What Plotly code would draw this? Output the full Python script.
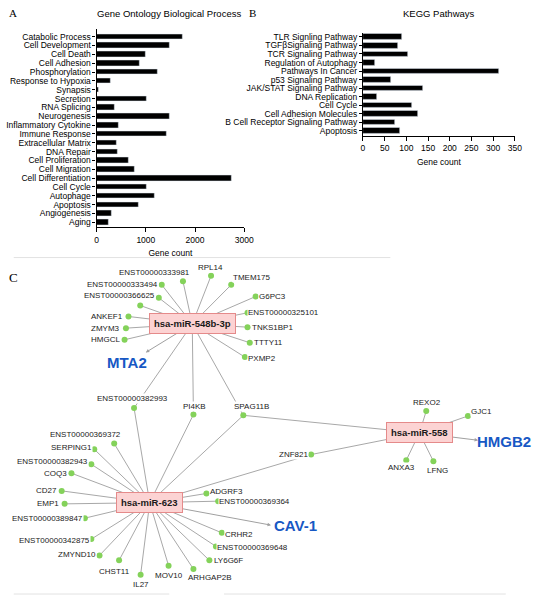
import plotly.graph_objects as go

# ---- Panel A: GO biological process ----
go_terms = ['Catabolic Process', 'Cell Development', 'Cell Death', 'Cell Adhesion', 'Phosphorylation',
            'Response to Hypoxia', 'Synapsis', 'Secretion', 'RNA Splicing', 'Neurogenesis',
            'Inflammatory Cytokine', 'Immune Response', 'Extracellular Matrix', 'DNA Repair',
            'Cell Proliferation', 'Cell Migration', 'Cell Differentiation', 'Cell Cycle', 'Autophage',
            'Apoptosis', 'Angiogenesis', 'Aging']
go_counts = [1745, 1480, 1005, 870, 1235, 280, 45, 1010, 365, 1490,
             440, 1430, 405, 425, 650, 780, 2735, 1010, 1180, 860, 300, 250]

# ---- Panel B: KEGG pathways ----
kegg_terms = ['TLR Signling Pathway', 'TGFβSignaling Pathway', 'TCR Signaling Pathway',
              'Regulation of Autophagy', 'Pathways In Cancer', 'p53 Signaling Pathway',
              'JAK/STAT Signaling Pathway', 'DNA Replication', 'Cell Cycle', 'Cell Adhesion Molecules',
              'B Cell Receptor Signaling Pathway', 'Apoptosis']
kegg_counts = [89, 80, 103, 28, 314, 64, 138, 32, 114, 126, 74, 85]

# ---- Panel C: miRNA-target network (layout coordinates of the exported network) ----
hubs = ['hsa-miR-548b-3p', 'hsa-miR-623', 'hsa-miR-558']
hub_x = [194.5, 151, 426.7]
hub_y = [323.5, 502.5, 432.7]

genes = ['ENST00000333981', 'RPL14', 'TMEM175', 'G6PC3', 'ENST00000325101', 'TNKS1BP1', 'TTTY11',
         'PXMP2', 'ENST00000333494', 'ENST00000366625', '_hidden', 'ANKEF1', 'ZMYM3', 'HMGCL',
         'ENST00000382993', 'PI4KB', 'SPAG11B',
         'ENST00000369372', 'SERPING1', 'ENST00000382943', 'COQ3', 'CD27', 'EMP1', 'ENST00000389847',
         'ENST00000342875', 'ZMYND10', 'CHST11', 'IL27', 'MOV10', 'ARHGAP2B', 'LY6G6F',
         'ENST00000369648', 'CRHR2', 'ENST00000369364', 'ADGRF3', 'ZNF821',
         'REXO2', 'GJC1', 'ANXA3', 'LFNG']
gene_x = [185, 213.7, 234.3, 259.3, 251, 251, 253.3, 248.3, 163.3, 160.3, 141.3, 129.3, 126.7, 125.3,
          135, 195.7, 246.7,
          114.7, 94.3, 91.3, 71, 61, 64, 84.7, 91.3, 99.7, 119.7, 141.7, 170.3, 195.7, 212,
          218.7, 224.7, 221, 209, 316,
          433.7, 476.3, 413.3, 441]
gene_y = [280.7, 275.3, 284.3, 296, 312.3, 326.7, 342.3, 356.7, 284.3, 297.3, 305, 316, 327.7, 339.3,
          407.7, 414.3, 415,
          443.3, 449, 464, 473, 490.7, 503.7, 518, 539, 555.3, 560.3, 574.7, 565.7, 569, 560.3,
          546.3, 532.7, 501, 493.3, 454.3,
          410.7, 415.7, 460, 461]
label_x = [155.8, 213.3, 255.3, 277, 287.7, 276.3, 272, 266.3, 123, 120.5, None, 107.8, 106.2, 105.8,
           133.5, 196.7, 255,
           85.3, 70.8, 51.7, 54.5, 45.8, 47.5, 47, 53.2, 76.8, 114.5, 141.7, 170.5, 212.3, 231.3,
           256.5, 242, 258.3, 229.3, 297.8,
           434, 490, 408.3, 445.7]
label_y = [272.3, 266.7, 277.3, 296, 311.7, 326.7, 342.3, 358.5, 284.3, 295.3, None, 316, 327.7, 339.3,
           397.7, 405.7, 406,
           434, 447.7, 461, 473, 490.3, 503.3, 518.3, 540.7, 554.7, 571, 584.3, 575, 577.7, 560.3,
           547, 534.3, 501, 491, 454.3,
           402.3, 411, 467.7, 470]

links = {
    'hsa-miR-548b-3p': ['ENST00000333981', 'RPL14', 'TMEM175', 'G6PC3', 'ENST00000325101', 'TNKS1BP1',
                        'TTTY11', 'PXMP2', 'ENST00000333494', 'ENST00000366625', '_hidden', 'ANKEF1',
                        'ZMYM3', 'HMGCL', 'ENST00000382993', 'PI4KB', 'SPAG11B'],
    'hsa-miR-623': ['ENST00000382993', 'PI4KB', 'SPAG11B', 'ENST00000369372', 'SERPING1',
                    'ENST00000382943', 'COQ3', 'CD27', 'EMP1', 'ENST00000389847', 'ENST00000342875',
                    'ZMYND10', 'CHST11', 'IL27', 'MOV10', 'ARHGAP2B', 'LY6G6F', 'ENST00000369648',
                    'CRHR2', 'ENST00000369364', 'ADGRF3', 'ZNF821'],
    'hsa-miR-558': ['SPAG11B', 'ZNF821', 'REXO2', 'GJC1', 'ANXA3', 'LFNG'],
}

# highlighted targets (arrow end point + label centre)
targets = ['MTA2', 'CAV-1', 'HMGB2']
target_hub = ['hsa-miR-548b-3p', 'hsa-miR-623', 'hsa-miR-558']
target_x = [147, 275, 486.7]
target_y = [352, 525, 440]
target_lx = [127.7, 300, 513]
target_ly = [361.7, 525, 441.7]

FONT = 'Liberation Sans, Arial, sans-serif'
W, H = 550, 603

fig = go.Figure()

fig.add_trace(go.Bar(x=go_counts, y=go_terms, orientation='h', marker_color='black',
                     width=0.62, xaxis='x', yaxis='y', showlegend=False))
fig.add_trace(go.Bar(x=kegg_counts, y=kegg_terms, orientation='h', marker_color='black',
                     width=0.65, xaxis='x2', yaxis='y2', showlegend=False))

# network edges
pos = {g: (x, y) for g, x, y in zip(genes, gene_x, gene_y)}
hub_pos = {h: (x, y) for h, x, y in zip(hubs, hub_x, hub_y)}
ex, ey = [], []
for hub, tgts in links.items():
    hx, hy = hub_pos[hub]
    for t in tgts:
        gx, gy = pos[t]
        ex += [hx, gx, None]
        ey += [hy, gy, None]
fig.add_trace(go.Scatter(x=ex, y=ey, mode='lines', line=dict(color='#a8a8a8', width=1),
                         xaxis='x3', yaxis='y3', hoverinfo='skip', showlegend=False))
fig.add_trace(go.Scatter(x=gene_x, y=gene_y, mode='markers', text=genes,
                         marker=dict(size=6, color='#84d25a'),
                         xaxis='x3', yaxis='y3', showlegend=False))

ann = []
# arrows to highlighted targets
for t, h, x, y in zip(targets, target_hub, target_x, target_y):
    hx, hy = hub_pos[h]
    ann.append(dict(x=x, y=y, ax=hx, ay=hy, xref='x3', yref='y3', axref='x3', ayref='y3',
                    text='', showarrow=True, arrowhead=2, arrowsize=0.7, arrowwidth=1,
                    arrowcolor='#a0a0a0'))
for t, x, y in zip(targets, target_lx, target_ly):
    ann.append(dict(x=x, y=y, xref='x3', yref='y3', text=f'<b>{t}</b>', showarrow=False,
                    font=dict(family=FONT, size=15, color='#1758c4')))
# gene labels
for g, x, y in zip(genes, label_x, label_y):
    if x is None:
        continue
    ann.append(dict(x=x, y=y, xref='x3', yref='y3', text=g, showarrow=False, bgcolor='white',
                    borderpad=0, font=dict(family=FONT, size=8, color='#222')))
# miRNA boxes
for h, x, y in zip(hubs, hub_x, hub_y):
    ann.append(dict(x=x, y=y, xref='x3', yref='y3', text=f'<b>{h}</b>', showarrow=False,
                    bgcolor='#fcd3d3', bordercolor='#e58a8a', borderwidth=1, borderpad=4,
                    font=dict(family=FONT, size=9.5, color='#1a1a1a')))

# titles and panel letters
ann.append(dict(x=171 / W, y=1 - 13 / H, xref='paper', yref='paper', showarrow=False,
                xanchor='center', yanchor='middle',
                text='Gene Ontology Biological Process', font=dict(family=FONT, size=9.5, color='black')))
ann.append(dict(x=446.7 / W, y=1 - 13 / H, xref='paper', yref='paper', showarrow=False,
                xanchor='center', yanchor='middle',
                text='KEGG Pathways', font=dict(family=FONT, size=9.5, color='black')))
for letter, x, y, s in [('A', 11.7, 12.5, 11), ('B', 256, 12.5, 11), ('C', 11.7, 277.3, 13)]:
    ann.append(dict(x=x / W, y=1 - y / H, xref='paper', yref='paper', showarrow=False, text=letter,
                    xanchor='center', yanchor='middle',
                    font=dict(family='Liberation Serif, Times New Roman, serif', size=s, color='black')))

shapes = [
    dict(type='line', xref='paper', yref='paper', x0=12 / W, x1=397 / W, y0=1 - 257 / H, y1=1 - 257 / H,
         line=dict(color='#e2e2e2', width=1)),
    dict(type='line', xref='paper', yref='paper', x0=12 / W, x1=171 / W, y0=1 - 594 / H, y1=1 - 594 / H,
         line=dict(color='#e2e2e2', width=1)),
    dict(type='line', xref='paper', yref='paper', x0=227 / W, x1=515 / W, y0=1 - 594 / H, y1=1 - 594 / H,
         line=dict(color='#e2e2e2', width=1)),
]

bar_x = dict(showline=True, linecolor='black', linewidth=1.2, ticks='outside', ticklen=4,
             tickwidth=1.2, tickcolor='black', showgrid=False, zeroline=False,
             tickfont=dict(family=FONT, size=8.5, color='black'))
bar_y = dict(showline=True, linecolor='black', linewidth=1.2, ticks='outside', ticklen=3,
             tickwidth=1.2, tickcolor='black', showgrid=False, zeroline=False,
             tickmode='linear', tick0=0, dtick=1,
             tickfont=dict(family=FONT, size=8.5, color='black'), type='category')

fig.update_layout(
    width=W, height=H, margin=dict(l=0, r=0, t=0, b=0),
    paper_bgcolor='white', plot_bgcolor='rgba(0,0,0,0)',
    font=dict(family=FONT, color='black'),
    bargap=0,
    xaxis=dict(domain=[96.7 / W, 247.7 / W], range=[0, 3000], tickvals=[0, 1000, 2000, 3000],
               title=dict(text='Gene count', font=dict(size=8.5), standoff=6), anchor='y', **bar_x),
    yaxis=dict(domain=[1 - 226.7 / H, 1 - 28.3 / H], range=[21.565, -0.835], anchor='x', **bar_y),
    xaxis2=dict(domain=[369 / W, 524.3 / W], range=[0, 350], dtick=50,
                title=dict(text='Gene count', font=dict(size=8.5), standoff=6), anchor='y2', **bar_x),
    yaxis2=dict(domain=[1 - 135 / H, 1 - 31.7 / H], range=[11.585, -0.5], anchor='x2', **bar_y),
    xaxis3=dict(domain=[0, 1], range=[0, W], visible=False, anchor='y3'),
    yaxis3=dict(domain=[0, 1 - 257 / H], range=[H, 257], visible=False, anchor='x3'),
    annotations=ann, shapes=shapes,
)

fig.write_html("out.html", config={'displayModeBar': False},
               post_script="document.body.style.margin='0';")
